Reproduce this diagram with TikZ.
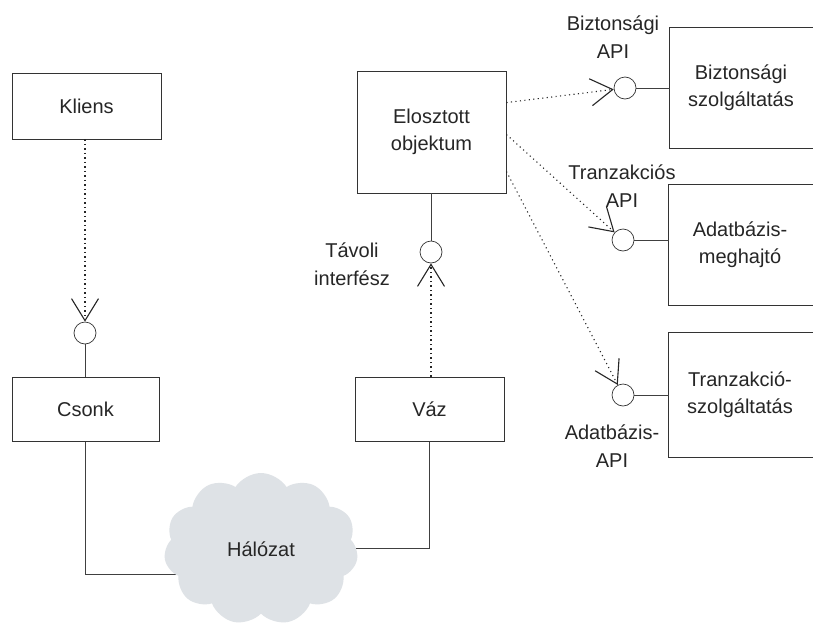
\documentclass[tikz,border=0pt]{standalone}
\usepackage{fontspec}
\setmainfont{Liberation Sans}
\usetikzlibrary{arrows.meta,shapes.symbols,calc,backgrounds}
\definecolor{netgray}{RGB}{222,226,230}
\begin{document}
\begin{tikzpicture}[x=1pt,y=-1pt,
  box/.style={draw=black!80,line width=0.9pt,minimum width=149pt,inner sep=0pt,align=center,
    font=\fontsize{20}{27}\selectfont,text=black!85},
  openbox/.style={box,draw=none,minimum width=142pt},
  iface/.style={circle,draw=black!80,line width=0.7pt,minimum size=22pt,inner sep=0pt},
  lbl/.style={align=center,inner sep=0pt,font=\fontsize{20}{28}\selectfont,text=black!85},
  dep/.style={draw=black!85,line width=1.1pt,dash pattern=on 1.1pt off 3.4pt,
    -{Straight Barb[length=22pt,width=27pt,line width=1.1pt]}},
  wire/.style={draw=black!75,line width=0.8pt}]
\useasboundingbox (0,0) rectangle (813,624);
\clip (0,0) rectangle (813,624);

% boxes
\node[box,minimum height=66pt] (kliens) at (86.5,106) {Kliens};
\node[box,minimum width=147pt,minimum height=64pt] (csonk) at (85.5,409) {Csonk};
\node[box,minimum height=122pt] (elo) at (431.5,132) {Elosztott\\objektum};
\node[box,minimum height=64pt] (vaz) at (429.5,409) {Váz};

\node[openbox,minimum height=120pt] (biz) at (741,88) {Biztonsági\\szolgáltatás};
\node[openbox,minimum height=120pt] (adm) at (740,245) {Adatbázis-\\meghajtó};
\node[openbox,minimum height=124pt] (trs) at (740,395) {Tranzakció-\\szolgáltatás};
\foreach \b in {biz,adm,trs}
  \draw[black!80,line width=0.9pt] ($(\b.north east)+(10,0)$) -- (\b.north west) -- (\b.south west) -- ($(\b.south east)+(10,0)$);

% interfaces
\node[iface] (ik) at (85,333) {};
\node[iface] (ir) at (431,252) {};
\node[iface] (ib) at (625,88) {};
\node[iface] (it) at (623,240) {};
\node[iface] (ia) at (623,395) {};

% labels
\node[lbl] (lr) at (352,264) {Távoli\\interfész};
\node[lbl] (lb) at (613,37) {Biztonsági\\API};
\node[lbl] (lt) at (622,186) {Tranzakciós\\API};
\node[lbl] (la) at (612,446) {Adatbázis-\\API};

% network cloud
\node[cloud,cloud puffs=11,cloud puff arc=115,aspect=1.25,minimum width=194pt,minimum height=152pt,
  fill=netgray,draw=none,inner sep=0pt,font=\fontsize{20}{24}\selectfont,text=black!85] (net) at (261,549) {Hálózat};
\coordinate (netL) at (180,574);
\coordinate (netR) at (340,548);

% solid wires
\draw[wire] (ik) -- (ik |- csonk.north);
\draw[wire] (ir |- elo.south) -- (ir);
\draw[wire] (ib) -- (ib -| biz.west);
\draw[wire] (it) -- (it -| adm.west);
\draw[wire] (ia) -- (ia -| trs.west);
\begin{scope}[on background layer]
\fill[white] (0,0) rectangle (813,624);
\draw[wire] (ik |- csonk.south) |- (netL);
\draw[wire] (vaz.south) |- (netR);
\end{scope}

% dependencies
\draw[dep] (ik |- kliens.south) -- (ik);
\draw[dep] (ir |- vaz.north) -- (ir);
\draw[dep] ($(elo.north east)+(0,32)$) -- (ib);
\draw[dep] ($(elo.north east)+(0,64)$) -- (it);
\draw[dep] ($(elo.north east)+(0,101)$) -- (ia);
\end{tikzpicture}
\end{document}
